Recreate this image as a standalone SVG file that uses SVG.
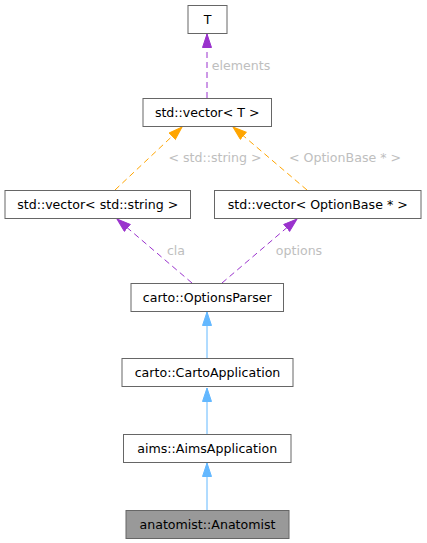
<svg xmlns="http://www.w3.org/2000/svg" width="427" height="543" viewBox="0 0 427 543">
<style>
.box{fill:#ffffff;stroke:#666666;stroke-width:1}
.cur{fill:#999999;stroke:#666666;stroke-width:1}
.t{font-family:"DejaVu Sans",sans-serif;font-size:12.6px;fill:#000000;text-anchor:middle}
.lbl{font-family:"DejaVu Sans",sans-serif;font-size:12.6px;fill:#bebebe;text-anchor:middle}
.inh{stroke:#63b8ff;stroke-width:1;fill:none}
.use{stroke:#9a32cd;stroke-width:1;fill:none;stroke-dasharray:6,4}
.tpl{stroke:#ffa500;stroke-width:1;fill:none;stroke-dasharray:6,4}
</style>
<defs>
<marker id="ab" markerWidth="15" markerHeight="11" refX="14" refY="5" orient="auto" markerUnits="userSpaceOnUse"><path d="M0.5,0.5 L14,5 L0.5,9.5 Z" fill="#63b8ff" stroke="#63b8ff"/></marker>
<marker id="ap" markerWidth="15" markerHeight="11" refX="14" refY="5" orient="auto" markerUnits="userSpaceOnUse"><path d="M0.5,0.5 L14,5 L0.5,9.5 Z" fill="#9a32cd" stroke="#9a32cd"/></marker>
<marker id="ao" markerWidth="15" markerHeight="11" refX="14" refY="5" orient="auto" markerUnits="userSpaceOnUse"><path d="M0.5,0.5 L14,5 L0.5,9.5 Z" fill="#ffa500" stroke="#ffa500"/></marker>
</defs>
<g id="connectors">
<line class="use" x1="207" y1="98" x2="207" y2="34" marker-end="url(#ap)"/>
<text class="lbl" x="241" y="70">elements</text>
<line class="tpl" x1="115" y1="190" x2="182" y2="127" marker-end="url(#ao)"/>
<text class="lbl" x="215" y="162">&lt; std::string &gt;</text>
<line class="tpl" x1="307" y1="190" x2="233" y2="127" marker-end="url(#ao)"/>
<text class="lbl" x="345" y="162">&lt; OptionBase * &gt;</text>
<line class="use" x1="192" y1="283" x2="117" y2="219" marker-end="url(#ap)"/>
<text class="lbl" x="176" y="255">cla</text>
<line class="use" x1="222" y1="283" x2="297" y2="219" marker-end="url(#ap)"/>
<text class="lbl" x="299" y="255">options</text>
<line class="inh" x1="207" y1="358" x2="207" y2="312" marker-end="url(#ab)"/>
<line class="inh" x1="207" y1="434" x2="207" y2="388" marker-end="url(#ab)"/>
<line class="inh" x1="207" y1="510" x2="207" y2="463" marker-end="url(#ab)"/>
</g>
<g id="node_T"><rect class="box" x="188" y="5.5" width="39" height="28"/><text class="t" x="207.5" y="24">T</text></g>
<g id="node_vecT"><rect class="box" x="143" y="98.5" width="128.5" height="28"/><text class="t" x="207.25" y="117">std::vector&lt; T &gt;</text></g>
<g id="node_vecStr"><rect class="box" x="5" y="190.5" width="185.5" height="28"/><text class="t" x="97.75" y="209">std::vector&lt; std::string &gt;</text></g>
<g id="node_vecOpt"><rect class="box" x="214.5" y="190.5" width="206.5" height="28"/><text class="t" x="317.75" y="209">std::vector&lt; OptionBase * &gt;</text></g>
<g id="node_OptionsParser"><rect class="box" x="131" y="283.5" width="152.5" height="28"/><text class="t" x="207.25" y="302">carto::OptionsParser</text></g>
<g id="node_CartoApplication"><rect class="box" x="122" y="358.5" width="171" height="28"/><text class="t" x="207.5" y="377">carto::CartoApplication</text></g>
<g id="node_AimsApplication"><rect class="box" x="123.5" y="434.5" width="167.5" height="28"/><text class="t" x="207.25" y="453">aims::AimsApplication</text></g>
<g id="node_Anatomist"><rect class="cur" x="126" y="510.5" width="163" height="28"/><text class="t" x="207.5" y="529">anatomist::Anatomist</text></g>
</svg>
